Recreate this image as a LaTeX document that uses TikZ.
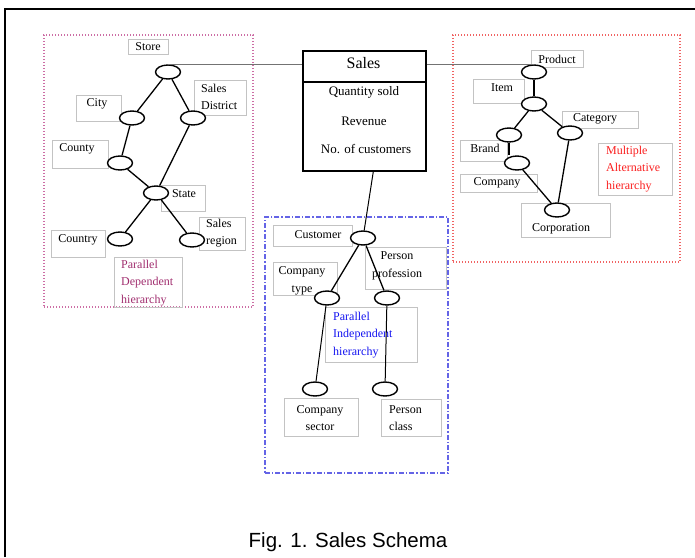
\documentclass[tikz,border=0pt]{standalone}
\usepackage{fontspec}
\setmainfont{Liberation Serif}
\newfontfamily\capfont{Liberation Sans}
\usetikzlibrary{shapes.geometric,fit}
\definecolor{pinkdot}{RGB}{205,110,165}
\definecolor{reddot}{RGB}{240,100,100}
\definecolor{bluedot}{RGB}{100,100,230}
\definecolor{purptxt}{RGB}{160,45,110}
\definecolor{redtxt}{RGB}{250,30,30}
\definecolor{bluetxt}{RGB}{20,20,240}
\definecolor{boxgray}{RGB}{195,195,195}
\tikzset{
  lev/.style={ellipse, draw=black, fill=white, line width=1.4pt, minimum width=25pt, minimum height=14pt, inner sep=0pt},
  lbox/.style={draw=boxgray, line width=0.9pt, inner sep=0pt},
  txt/.style={font=\fontsize{12}{17.5}\selectfont, inner sep=0pt, align=left},
  hedge/.style={line width=1.3pt},
  thinedge/.style={line width=1pt},
  grayline/.style={draw=black!55, line width=0.9pt},
  pinkframe/.style={draw=pinkdot, line width=1.3pt, dash pattern=on 1.3pt off 1.7pt, inner sep=0pt},
  redframe/.style={draw=reddot, line width=1.3pt, dash pattern=on 1.3pt off 1.7pt, inner sep=0pt},
  blueframe/.style={draw=bluedot, line width=1.1pt, dash pattern=on 5pt off 2pt on 1.3pt off 2pt, inner sep=0pt},
  salesbox/.style={draw=black, line width=1.6pt, inner sep=0pt, anchor=north west, minimum width=123pt},
  bodytxt/.style={font=\fontsize{13}{15}\selectfont, inner sep=0pt}
}
\begin{document}
\begin{tikzpicture}[x=1pt,y=-1pt]
\useasboundingbox (0,0) rectangle (695,557);
% outer frame
\draw[line width=2.5pt] (5,557) -- (5,9) -- (695,9);

% group frames
\node[pinkframe, fit={(44,35)(253,307)}] (depFrame) {};
\node[redframe, fit={(453,35)(680,262)}] (altFrame) {};
\node[blueframe, fit={(265,217)(448,473)}] (indFrame) {};

% ---------- left: parallel dependent ----------
\node[lbox, fit={(128,39)(168,54)}] (storeB) {};
\node[txt] (storeT) at (148,47) {Store};
\node[lbox, fit={(76,95)(121,121)}] (cityB) {};
\node[txt] (cityT) at (97,104) {City};
\node[lbox, fit={(194,80)(246,115)}] (sdB) {};
\node[txt, anchor=west] (sdT) at (201,97) {Sales\\District};
\node[lbox, fit={(52,140)(108,168)}] (countyB) {};
\node[txt] (countyT) at (77,149) {County};
\node[lbox, fit={(161,185)(205,211)}] (stateB) {};
\node[txt] (stateT) at (184,194) {State};
\node[lbox, fit={(51,230)(105,257)}] (countryB) {};
\node[txt] (countryT) at (78,240) {Country};
\node[lbox, fit={(199,217)(245,250)}] (srB) {};
\node[txt, anchor=west] (srT) at (206,233) {Sales\\region};
\node[lbox, fit={(114,257)(182,307)}] (pdB) {};
\node[txt, anchor=west, text=purptxt] (pdT) at (121,283) {Parallel\\Dependent\\hierarchy};

\node[lev] (store) at (168,72) {};
\node[lev] (city) at (132,118) {};
\node[lev] (sd) at (193,118) {};
\node[lev] (county) at (120,163) {};
\node[lev] (state) at (156,193) {};
\node[lev] (country) at (120,239) {};
\node[lev] (sr) at (192,240) {};

\draw[hedge] (store) -- (city);
\draw[hedge] (store) -- (sd);
\draw[hedge] (city) -- (county);
\draw[hedge] (county) -- (state);
\draw[hedge] (sd) -- (state);
\draw[hedge] (state) -- (country);
\draw[hedge] (state) -- (sr);

% ---------- sales fact ----------
\node[salesbox, minimum height=31pt] (salesT) at (302,50) {};
\node[font=\fontsize{16}{18}\selectfont, inner sep=0pt] (salesTitle) at (363.5,63) {Sales};
\node[salesbox, minimum height=89pt] (salesB) at (302,81) {};
\node[bodytxt] (qty) at (364,92) {Quantity sold};
\node[bodytxt] (rev) at (364,121) {Revenue};
\node[bodytxt] (noc) at (366,149) {No. of customers};

% ---------- right: multiple alternative ----------
\node[lbox, fit={(531,50)(583,67)}] (prodB) {};
\node[txt] (prodT) at (557,59) {Product};
\node[lbox, fit={(473,79)(524,103)}] (itemB) {};
\node[txt] (itemT) at (502,88) {Item};
\node[lbox, fit={(562,111)(638,128)}] (catB) {};
\node[txt] (catT) at (595,119) {Category};
\node[lbox, fit={(460,140)(507,161)}] (brandB) {};
\node[txt] (brandT) at (485,148) {Brand};
\node[lbox, fit={(460,174)(537,192)}] (compB) {};
\node[txt] (compT) at (497,183) {Company};
\node[lbox, fit={(521,203)(610,237)}] (corpB) {};
\node[txt] (corpT) at (561,229) {Corporation};
\node[lbox, fit={(598,143)(672,195)}] (maB) {};
\node[txt, anchor=west, text=redtxt] (maT) at (606,169) {Multiple\\Alternative\\hierarchy};

\node[lev] (prod) at (534,72) {};
\node[lev] (item) at (534,104) {};
\node[lev] (cat) at (570,133) {};
\node[lev] (brand) at (509,135) {};
\node[lev] (comp) at (517,163) {};
\node[lev] (corp) at (557,210) {};

\draw[hedge] (prod) -- (item);
\draw[hedge] (item) -- (brand);
\draw[hedge] (item) -- (cat);
\draw[hedge] (brand.south) -- (brand.south |- comp.north);
\draw[hedge] (comp) -- (corp);
\draw[hedge] (cat) -- (corp);

% ---------- centre: parallel independent ----------
\node[lbox, fit={(273,225)(352,246)}] (custB) {};
\node[txt] (custT) at (318,235) {Customer};
\node[lbox, fit={(273,262)(337,295)}] (ctB) {};
\node[txt, align=center] (ctT) at (302,281) {Company\\type};
\node[lbox, fit={(365,247)(446,289)}] (ppB) {};
\node[txt, align=center] (ppT) at (397,266) {Person\\profession};
\node[lbox, fit={(325,307)(417,362)}] (piB) {};
\node[txt, anchor=west, text=bluetxt] (piT) at (333,335) {Parallel\\Independent\\hierarchy};
\node[lbox, fit={(284,398)(358,436)}] (csB) {};
\node[txt, align=center] (csT) at (320,418) {Company\\sector};
\node[lbox, fit={(381,399)(441,436)}] (pcB) {};
\node[txt, anchor=west] (pcT) at (389,418) {Person\\class};

\node[lev] (cust) at (363,238) {};
\node[lev] (ct) at (327,298) {};
\node[lev] (pp) at (387,298) {};
\node[lev] (cs) at (315,389) {};
\node[lev] (pc) at (385,389) {};

\draw[thinedge] ([xshift=9pt]salesB.south) -- (cust);
\draw[hedge] (cust) -- (ct);
\draw[hedge] (cust) -- (pp);
\draw[thinedge] (ct) -- (cs);
\draw[thinedge] (pp) -- (pc);

% links from fact to dimensions
\draw[grayline] (store.north) -- (store.north -| salesT.west);
\draw[grayline] (salesT.east |- prod.north) -- (prod.north);

% caption
\node[font=\capfont\fontsize{20.5}{24}\selectfont, inner sep=0pt, anchor=base] (cap) at (348,547) {Fig. 1. Sales Schema};
\end{tikzpicture}
\end{document}
